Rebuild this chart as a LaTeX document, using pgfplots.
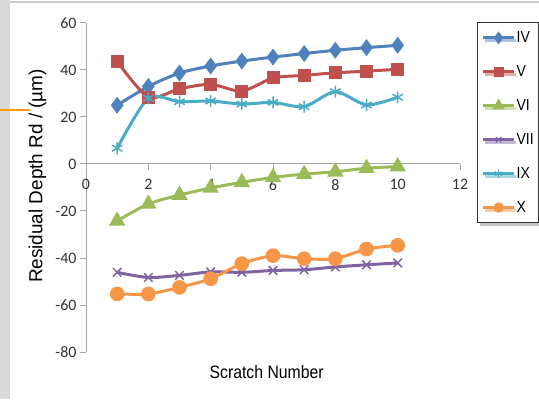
\documentclass[border=0pt]{standalone}
\usepackage{fontspec}
\setmainfont{Liberation Sans}
\newfontfamily\narrow{Liberation Sans}[FakeStretch=0.88]
\newfontfamily\tickfont{Carlito}
\usepackage{pgfplots}
\pgfplotsset{compat=1.18}
\usetikzlibrary{shadows}
\definecolor{cIV}{HTML}{4F81BD}
\definecolor{cV}{HTML}{C0504D}
\definecolor{cVI}{HTML}{9BBB59}
\definecolor{cVII}{HTML}{8064A2}
\definecolor{cIX}{HTML}{4BACC6}
\definecolor{cX}{HTML}{F79646}
\definecolor{axgray}{HTML}{A6A6A6}
\begin{document}
\begin{tikzpicture}[x=1bp,y=1bp]
\useasboundingbox (0,0) rectangle (539,399);
\fill[white] (0,0) rectangle (539,399);
\fill[black!15] (0,0) rectangle (10,399);
\draw[black!20,line width=1.5bp] (10,397) -- (539,397);
\draw[orange!80!yellow,line width=2bp] (0,289) -- (30,289);
\begin{axis}[
  at={(86bp,47bp)}, anchor=south west,
  scale only axis, width=374bp, height=329bp,
  xmin=0, xmax=12, ymin=-80, ymax=60,
  axis x line=middle, axis y line=left,
  hide obscured x ticks=false, hide obscured y ticks=false,
  axis line style={axgray, line width=1bp, -},
  xtick={0,2,...,12}, ytick={-80,-60,...,60},
  tick style={axgray, line width=1bp},
  tick align=outside, major tick length=6bp,
  /pgf/number format/assume math mode=true,
  ticklabel style={font=\tickfont\fontsize{16}{18}\selectfont, text=black!80},
  xticklabel style={yshift=-6bp},
  xlabel={\narrow Scratch Number},
  ylabel={Residual Depth Rd / (µm)},
  xlabel style={font=\fontsize{18}{20}\selectfont, at={(axis description cs:0.483,-0.061)}, anchor=center},
  ylabel style={font=\fontsize{19}{21}\selectfont, at={(axis description cs:-0.13,0.535)}, anchor=center, rotate=0},
  every axis plot/.append style={line width=3bp, smooth, tension=0.45},
  legend style={at={(axis description cs:1.0455,1.003)}, anchor=north west,
    draw=black!80, line width=1.2bp, fill=white,
    drop shadow={shadow xshift=2bp, shadow yshift=-3bp, opacity=0.45},
    font=\narrow\fontsize{16}{18}\selectfont,
    row sep=17.5bp, inner xsep=4bp, inner ysep=7bp,
    nodes={inner xsep=1bp}},
  legend cell align=left,
  legend image code/.code={
    \draw[mark repeat=2,mark phase=2] plot coordinates {(0bp,0bp) (15.5bp,0bp) (31bp,0bp)};
  },
  legend entries={IV,V,VI,VII,IX,X},
]
\addlegendimage{cIV, line width=3bp, mark=diamond*, mark options={scale=2}}
\addlegendimage{cV, line width=3bp, mark=square*, mark options={scale=1.7}}
\addlegendimage{cVI, line width=3bp, mark=triangle*, mark options={scale=2.1}}
\addlegendimage{cVII, line width=3bp, mark=x, mark options={scale=2, line width=1bp}}
\addlegendimage{cIX, line width=3bp, mark=asterisk, mark options={scale=2, line width=1bp}}
\addlegendimage{cX, line width=3bp, mark=*, mark options={scale=1.8}}
\addplot[forget plot, cIV, mark=diamond*, mark size=6bp] coordinates {
(1,25) (2,33) (3,38.7) (4,41.7) (5,43.8) (6,45.5) (7,47) (8,48.4) (9,49.5) (10,50.5)};
\addplot[forget plot, cV, mark=square*, mark size=5bp] coordinates {
(1,43.7) (2,28.4) (3,32) (4,33.9) (5,31) (6,36.6) (7,37.7) (8,38.8) (9,39.5) (10,40.3)};
\addplot[forget plot, cVI, mark=triangle*, mark size=6.5bp] coordinates {
(1,-24.2) (2,-17) (3,-13.2) (4,-10.2) (5,-7.8) (6,-5.7) (7,-4.3) (8,-3.3) (9,-1.8) (10,-1.1)};
\addplot[forget plot, cVII, mark=x, mark size=6bp, mark options={line width=1.5bp}] coordinates {
(1,-46.1) (2,-48.3) (3,-47.4) (4,-45.9) (5,-46.1) (6,-45.3) (7,-45) (8,-43.8) (9,-42.9) (10,-42.1)};
\addplot[forget plot, cIX, mark=asterisk, mark size=6bp, mark options={line width=1.5bp}] coordinates {
(1,6.7) (2,28) (3,26.5) (4,26.8) (5,25.5) (6,26.2) (7,24.4) (8,30.8) (9,25.1) (10,28.4)};
\addplot[forget plot, cX, mark=*, mark size=5.8bp] coordinates {
(1,-55.3) (2,-55.3) (3,-52.5) (4,-48.8) (5,-42.4) (6,-39) (7,-40.3) (8,-40.3) (9,-36.2) (10,-34.6)};
\end{axis}
\end{tikzpicture}
\end{document}
